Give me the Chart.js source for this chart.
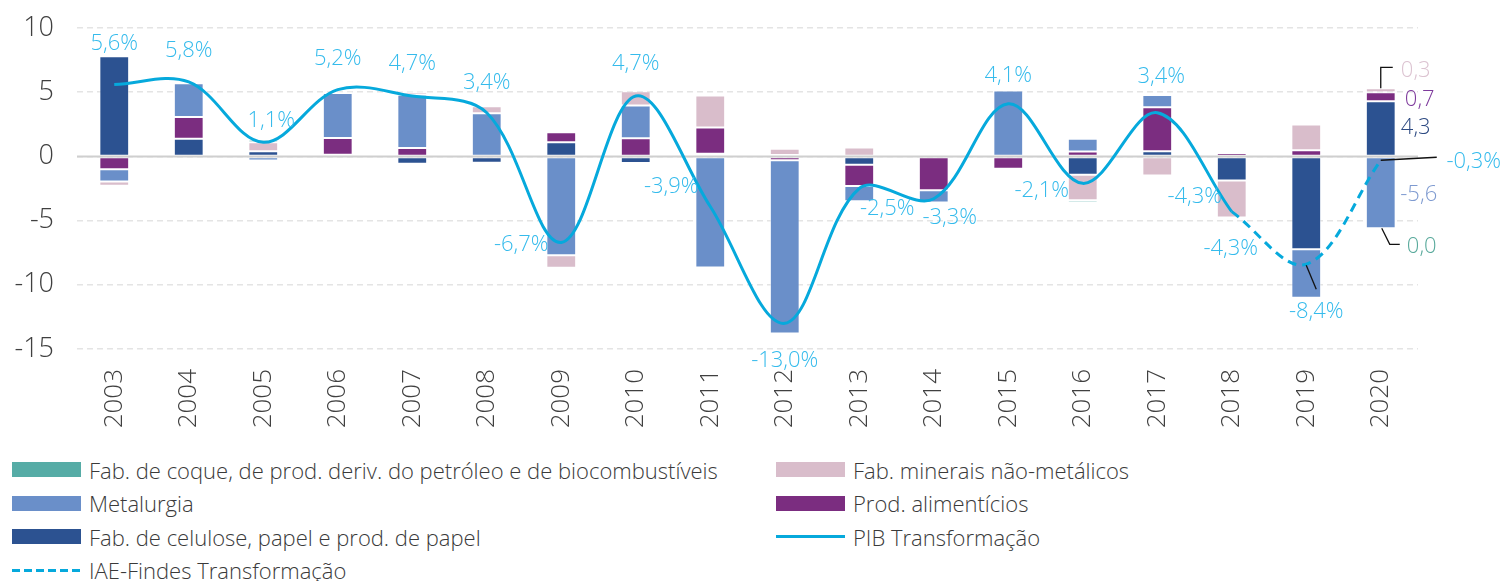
<!DOCTYPE html>
<html lang="pt">
<head>
<meta charset="UTF-8">
<title>Contribuição por setor - Transformação</title>
<script src="https://cdn.jsdelivr.net/npm/chart.js"></script>
<style>
	body { margin: 0; background: #fff; font-family: 'Open Sans', sans-serif; }
	#wrap { position: absolute; left: 0; top: 0; width: 1506px; height: 445px; }
	#legend {
		position: absolute; left: 12px; top: 453px; width: 1494px;
		display: grid; grid-template-columns: 764px 700px; grid-auto-rows: 33.5px;
		font-size: 22px; font-weight: 300; color: #3a3a3a;
	}
	.item { display: flex; align-items: center; white-space: nowrap; }
	.sw { width: 69px; height: 15px; margin-right: 8px; flex: none; }
	.ln { height: 3px; }
</style>
</head>
<body>
<div id="wrap"><canvas id="chart" width="1506" height="445"></canvas></div>
<div id="legend"></div>

<script>
// dados
const years = ['2003','2004','2005','2006','2007','2008','2009','2010','2011','2012','2013','2014','2015','2016','2017','2018','2019','2020'];

const celulose    = [7.8, 1.37, 0.41, 0.13, -0.57, -0.49, 1.11, -0.52, 0.2, 0.1, -0.65, 0.0, 0.0, -1.42, 0.41, -1.87, -7.23, 4.3];
const alimenticios = [-1.0, 1.69, 0.0, 1.3, 0.65, -0.16, 0.78, 1.42, 2.05, -0.3, -1.66, -2.64, -0.96, 0.39, 3.42, 0.26, 0.47, 0.7];
const metalurgia  = [-0.95, 2.64, -0.31, 3.5, 4.15, 3.37, -7.7, 2.54, -8.65, -13.5, -1.19, -0.96, 5.13, 0.98, 0.96, 0.05, -3.78, -5.6];
const minerais    = [-0.33, 0.13, 0.7, 0.15, 0.2, 0.54, -0.98, 1.11, 2.49, 0.5, 0.7, 0.0, 0.0, -2.0, -1.48, -2.88, 2.02, 0.3];
const coque       = [-0.03, 0.0, 0.18, 0.1, 0.13, 0.0, 0.0, 0.0, -0.05, 0.1, 0.15, 0.2, -0.1, -0.18, 0.0, 0.0, 0.0, 0.0];

const pib = [5.6, 5.8, 1.1, 5.2, 4.7, 3.4, -6.7, 4.7, -3.9, -13.0, -2.5, -3.3, 4.1, -2.1, 3.4, -4.3, null, null];
const iae = [null, null, null, null, null, null, null, null, null, null, null, null, null, null, null, -4.3, -8.4, -0.3];

const yMin = -15, yMax = 10, yStep = 5;

// deslocamento dos rótulos (px) em relação ao ponto
const pibLabelOffsets = [[0,-41],[0,-31],[8,-22],[0,-31],[0,-32],[0,-30],[-40,2],[0,-32],[-39,-20],[0,37],[28,20],[16,19],[0,-28],[-41,7],[4,-36],[-37,-15]];
const iaeLabelOffsets = {15: [-1, 37], 16: [10, 47], 17: [93, 1]};

const FONT = "'Open Sans', sans-serif";
const C = {
	coque: '#56aca6', metal: '#6a8fc9', celulose: '#2c5291', minerais: '#d9bdcb',
	alim: '#7b2d80', line: '#06a9dc', label: '#35bbec', text: '#404040'
};

const fmt = v => v.toFixed(1).replace('.', ',');

const zeroAndLabels = {
	id: 'zeroAndLabels',
	afterDatasetDraw(chart, args) {
		if (args.index !== 0) return;
		const ctx = chart.ctx, y = chart.scales.y.getPixelForValue(0), a = chart.chartArea;
		ctx.save();
		ctx.strokeStyle = '#cfcfcf';
		ctx.lineWidth = 2;
		ctx.beginPath(); ctx.moveTo(a.left, y); ctx.lineTo(a.right, y); ctx.stroke();
		ctx.restore();
	},
	afterDraw(chart) {
		const ctx = chart.ctx, xs = chart.scales.x, ys = chart.scales.y;
		ctx.save();
		ctx.textAlign = 'center';
		ctx.textBaseline = 'middle';
		ctx.font = '300 22px ' + FONT;
		ctx.fillStyle = C.label;
		pib.forEach((v, i) => {
			if (v === null) return;
			const o = pibLabelOffsets[i];
			ctx.fillText(fmt(v) + '%', xs.getPixelForValue(i) + o[0], ys.getPixelForValue(v) + o[1]);
		});
		ctx.strokeStyle = '#111';
		ctx.lineWidth = 1.3;
		iae.forEach((v, i) => {
			if (v === null) return;
			const o = iaeLabelOffsets[i];
			const px = xs.getPixelForValue(i), py = ys.getPixelForValue(v);
			if (i === 16) {
				ctx.beginPath(); ctx.moveTo(px, py + 1); ctx.lineTo(px + 10, py + 25); ctx.stroke();
			}
			if (i === 17) {
				ctx.beginPath(); ctx.moveTo(px, py); ctx.lineTo(px + 56, py - 3); ctx.stroke();
			}
			ctx.fillText(fmt(v) + '%', px + o[0], py + o[1]);
		});

		// rótulos do último ano
		const last = years.length - 1;
		const el = ds => chart.getDatasetMeta(ds).data[last];
		const bx = el(0).x;
		const mid = e => (e.y + e.base) / 2;
		// minerais
		const eMin = el(3);
		ctx.beginPath();
		ctx.moveTo(bx, eMin.y); ctx.lineTo(bx, eMin.y - 21); ctx.lineTo(bx + 12, eMin.y - 21);
		ctx.stroke();
		ctx.fillStyle = '#dcc3d1';
		ctx.fillText(fmt(minerais[last]), bx + 35, eMin.y - 18);
		ctx.fillStyle = '#7e3a9c';
		ctx.fillText(fmt(alimenticios[last]), bx + 39, mid(el(1)) + 3);
		ctx.fillStyle = '#2d4a82';
		ctx.fillText(fmt(celulose[last]), bx + 35, mid(el(0)) - 1);
		const eMet = el(2);
		ctx.fillStyle = '#7e9ad0';
		ctx.fillText(fmt(metalurgia[last]), bx + 38, mid(eMet) + 2);
		ctx.beginPath();
		ctx.moveTo(bx + 1, eMet.y); ctx.lineTo(bx + 9, eMet.y + 16); ctx.lineTo(bx + 19, eMet.y + 16);
		ctx.stroke();
		ctx.fillStyle = '#58a99b';
		ctx.fillText(fmt(coque[last]), bx + 41, eMet.y + 18);
		ctx.restore();
	}
};

const barDs = (label, data, color) => ({
	type: 'bar', label, data, backgroundColor: color,
	borderColor: 'rgba(255,255,255,0.5)', borderWidth: 1, borderSkipped: false,
	stack: 's', order: 1, barPercentage: 0.4, categoryPercentage: 1
});

const chart = new Chart(document.getElementById('chart'), {
	data: {
		labels: years,
		datasets: [
			barDs('Fab. de celulose, papel e prod. de papel', celulose, C.celulose),
			barDs('Prod. alimentícios', alimenticios, C.alim),
			barDs('Metalurgia', metalurgia, C.metal),
			barDs('Fab. minerais não-metálicos', minerais, C.minerais),
			barDs('Fab. de coque, de prod. deriv. do petróleo e de biocombustíveis', coque, C.coque),
			{ type: 'line', label: 'PIB Transformação', data: pib, borderColor: C.line, borderWidth: 3,
			  tension: 0.35, pointRadius: 0, order: 0, spanGaps: true, stack: 'pib' },
			{ type: 'line', label: 'IAE-Findes Transformação', data: iae, borderColor: C.line, borderWidth: 3,
			  borderDash: [9, 6], tension: 0.35, pointRadius: 0, order: 0, spanGaps: true, stack: 'iae' }
		]
	},
	options: {
		responsive: false,
		devicePixelRatio: 1,
		animation: false,
		layout: { padding: { top: 28, right: 88, left: 0, bottom: 0 } },
		plugins: { legend: { display: false }, tooltip: { enabled: false } },
		scales: {
			x: {
				stacked: true,
				grid: { display: false },
				border: { display: false },
				ticks: { maxRotation: 90, minRotation: 90, padding: 12, color: C.text,
					font: { family: FONT, size: 26, weight: '300' } },
				afterFit: s => { s.height = 96; }
			},
			y: {
				stacked: true,
				min: yMin, max: yMax,
				grid: { color: '#e4e4e4', lineWidth: 1.5, drawTicks: true, tickLength: 19, tickColor: 'rgba(0,0,0,0)' },
				border: { display: false, dash: [6, 4] },
				ticks: { stepSize: yStep, padding: 4, color: C.text,
					font: { family: FONT, size: 27, weight: '300' } },
				afterFit: s => { s.width = 77; }
			}
		}
	},
	plugins: [zeroAndLabels]
});

// legenda
const legendOrder = [4, 3, 2, 1, 0, 5, 6];
const legend = document.getElementById('legend');
legendOrder.forEach(i => {
	const ds = chart.data.datasets[i];
	const item = document.createElement('div');
	item.className = 'item';
	const sw = document.createElement('span');
	sw.className = 'sw';
	if (ds.type === 'line') {
		sw.classList.add('ln');
		sw.style.background = ds.borderDash
			? 'repeating-linear-gradient(to right, ' + ds.borderColor + ' 0 8px, transparent 8px 12px)'
			: ds.borderColor;
	} else {
		sw.style.background = ds.backgroundColor;
	}
	item.appendChild(sw);
	item.appendChild(document.createTextNode(ds.label));
	legend.appendChild(item);
});
</script>
</body>
</html>
